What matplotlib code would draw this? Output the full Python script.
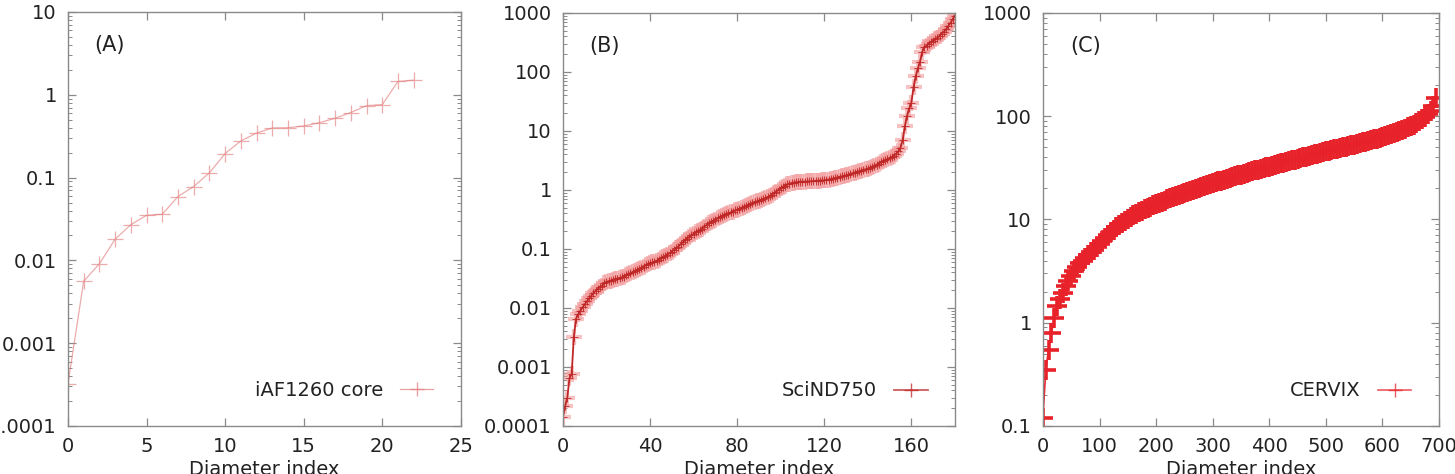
import matplotlib
matplotlib.use("Agg")
import matplotlib.pyplot as plt
from matplotlib.ticker import FuncFormatter, LogLocator, NullFormatter

# (A) iAF1260 core
a_index = list(range(23))
a_values = [0.00032, 0.0056, 0.0091, 0.018, 0.027, 0.035, 0.036, 0.059, 0.078,
            0.114, 0.195, 0.277, 0.345, 0.397, 0.40, 0.42, 0.46, 0.52, 0.61,
            0.74, 0.76, 1.45, 1.5]

# (B) SciND750
b_index = list(range(181))
b_values = [
    1.4e-4, 2.2e-4, 3.0e-4, 6.5e-4, 7.5e-4, 3.2e-3, 6.6e-3, 7.8e-3, 9.0e-3, 0.0102,
    0.0115, 0.013, 0.0145, 0.016, 0.018, 0.0195, 0.021, 0.0225, 0.024, 0.026,
    0.0275, 0.0285, 0.029, 0.030, 0.031, 0.0315, 0.032, 0.033, 0.034, 0.0355,
    0.037, 0.0385, 0.040, 0.042, 0.044, 0.046, 0.048, 0.050, 0.053, 0.055,
    0.057, 0.059, 0.061, 0.063, 0.066, 0.069, 0.072, 0.076, 0.080, 0.085,
    0.090, 0.096, 0.102, 0.11, 0.12, 0.13, 0.14, 0.15, 0.16, 0.17,
    0.18, 0.19, 0.20, 0.21, 0.22, 0.24, 0.255, 0.27, 0.285, 0.30,
    0.315, 0.33, 0.345, 0.36, 0.375, 0.39, 0.40, 0.415, 0.43, 0.45,
    0.465, 0.48, 0.50, 0.52, 0.54, 0.56, 0.58, 0.60, 0.62, 0.64,
    0.66, 0.68, 0.70, 0.72, 0.75, 0.79, 0.83, 0.88, 0.94, 1.0,
    1.06, 1.12, 1.18, 1.24, 1.28, 1.31, 1.33, 1.35, 1.36, 1.37,
    1.38, 1.38, 1.39, 1.40, 1.40, 1.41, 1.42, 1.43, 1.44, 1.45,
    1.46, 1.48, 1.50, 1.53, 1.56, 1.59, 1.62, 1.65, 1.69, 1.73,
    1.77, 1.82, 1.87, 1.92, 1.97, 2.02, 2.07, 2.12, 2.18, 2.24,
    2.3, 2.38, 2.46, 2.56, 2.68, 2.8, 2.92, 3.05, 3.18, 3.3,
    3.45, 3.6, 3.8, 4.1, 4.5, 5.2, 7.0, 12, 18, 24,
    30, 55, 85, 115, 150, 220, 260, 280, 300, 320,
    340, 360, 380, 410, 440, 480, 530, 600, 680, 780,
    900,
]

# (C) CERVIX, read every 5th diameter index
c_index = list(range(0, 700, 5))
c_values = [
    0.12, 0.35, 0.55, 0.80, 1.10, 1.45, 1.70, 1.95, 2.25, 2.55,
    2.85, 3.15, 3.45, 3.75, 4.0, 4.25, 4.5, 4.8, 5.1, 5.45,
    5.8, 6.2, 6.6, 7.05, 7.5, 7.95, 8.4, 8.85, 9.3, 9.75,
    10.2, 10.6, 11.0, 11.4, 11.8, 12.2, 12.6, 12.95, 13.3, 13.65,
    14.0, 14.4, 14.8, 15.2, 15.6, 16.0, 16.4, 16.8, 17.2, 17.6,
    18.0, 18.4, 18.85, 19.3, 19.75, 20.2, 20.65, 21.1, 21.6, 22.0,
    22.5, 22.9, 23.4, 23.8, 24.2, 24.7, 25.2, 25.7, 26.2, 26.7,
    27.2, 27.7, 28.2, 28.7, 29.3, 29.8, 30.3, 30.9, 31.4, 32.0,
    32.5, 33.1, 33.7, 34.3, 34.9, 35.5, 36.1, 36.7, 37.3, 37.9,
    38.5, 39.2, 39.9, 40.6, 41.3, 42.0, 42.7, 43.4, 44.1, 44.8,
    45.5, 46.2, 46.9, 47.6, 48.3, 49.0, 49.8, 50.6, 51.4, 52.2,
    53.0, 53.9, 54.8, 55.7, 56.6, 57.5, 58.5, 59.6, 60.7, 61.8,
    63.0, 64.3, 65.6, 67.0, 68.5, 70.0, 71.8, 73.7, 75.7, 77.8,
    80.0, 83, 86, 90, 94, 99, 105, 112, 125, 150,
]

FS = 14
TEXT = "#222222"
FRAME = "#8a8a8a"

plt.rcParams["font.family"] = ["DejaVu Sans"]

fig = plt.figure(figsize=(14.55, 4.74), dpi=100)
boxes = [
    (0.0467, 0.1013, 0.2700, 0.8734),
    (0.3869, 0.1013, 0.2694, 0.8715),
    (0.7168, 0.1013, 0.2722, 0.8715),
]


def style_axes(ax, xlim, xticks, ylim):
    ax.set_yscale("log")
    ax.set_xlim(*xlim)
    ax.set_ylim(*ylim)
    ax.set_xticks(xticks)
    ax.yaxis.set_major_locator(LogLocator(base=10, numticks=20))
    ax.yaxis.set_minor_locator(LogLocator(base=10, subs=range(2, 10), numticks=100))
    ax.yaxis.set_major_formatter(FuncFormatter(lambda v, p: "%g" % v))
    ax.yaxis.set_minor_formatter(NullFormatter())
    for sp in ax.spines.values():
        sp.set_color(FRAME)
        sp.set_linewidth(1.0)
    ax.tick_params(which="both", direction="in", top=True, right=True,
                   color=FRAME, labelcolor=TEXT, labelsize=FS)
    ax.tick_params(which="major", length=6, width=0.9, pad=8)
    ax.tick_params(which="minor", length=3, width=0.7)
    ax.set_xlabel("Diameter index", fontsize=FS, color=TEXT, labelpad=3)


# panel A
ax = fig.add_axes(boxes[0])
ax.plot(a_index, a_values, color="#e38080", lw=0.9, alpha=0.65,
        marker="+", ms=11, mew=0.9, label="iAF1260 core")
style_axes(ax, (0, 25), range(0, 26, 5), (1e-4, 10))
ax.text(0.068, 0.905, "(A)", transform=ax.transAxes, fontsize=FS + 1, color=TEXT)

# panel B: pale halo of markers under a darker core line
ax = fig.add_axes(boxes[1])
ax.plot(b_index, b_values, color="#f29a9a", lw=0, alpha=0.6,
        marker="+", ms=11, mew=3.0)
ax.plot(b_index, b_values, color="#bf2626", lw=1.3,
        marker="+", ms=6, mew=0.6, label="SciND750")
style_axes(ax, (0, 180), range(0, 161, 40), (1e-4, 1000))
ax.text(0.068, 0.905, "(B)", transform=ax.transAxes, fontsize=FS + 1, color=TEXT)

# panel C
ax = fig.add_axes(boxes[2])
ax.plot(c_index, c_values, color="#e8222a", lw=1.2,
        marker="+", ms=14, mew=2.6, label="CERVIX")
style_axes(ax, (0, 700), range(0, 701, 100), (0.1, 1000))
ax.text(0.068, 0.905, "(C)", transform=ax.transAxes, fontsize=FS + 1, color=TEXT)

for ax in fig.axes:
    leg = ax.legend(loc="center right", frameon=False, markerfirst=False,
                    fontsize=FS, handlelength=1.7, handletextpad=0.9,
                    borderaxespad=0, bbox_to_anchor=(0.95, 0.085))
    for t in leg.get_texts():
        t.set_color(TEXT)
    for h in leg.legend_handles:
        h.set_markersize(10)
        h.set_markeredgewidth(1.0)
        h.set_alpha(0.75)

fig.savefig("out.png", dpi=100)
